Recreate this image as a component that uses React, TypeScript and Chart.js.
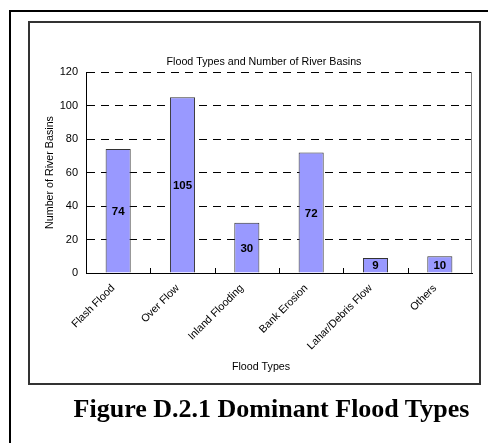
import React, { useEffect, useRef } from "react";
import { Chart, registerables } from "chart.js";

Chart.register(...registerables);

const categories = [
  "Flash Flood",
  "Over Flow",
  "Inland Flooding",
  "Bank Erosion",
  "Lahar/Debris Flow",
  "Others",
];
const basinCounts = [74, 105, 30, 72, 9, 10];
const yMin = 0;
const yMax = 120;
const yStep = 20;
const chartTitle = "Flood Types and Number of River Basins";
const xTitle = "Flood Types";
const yTitle = "Number of River Basins";
const caption = "Figure D.2.1 Dominant Flood Types";

const FONT = "'Liberation Sans', Arial, sans-serif";
const TXT = 10.7;

const decorPlugin = {
  id: "decor",
  afterDraw(chart: any) {
    const { ctx, chartArea: a } = chart;
    const x = chart.scales.x;
    ctx.save();
    // right border of plot area
    ctx.strokeStyle = "#808080";
    ctx.lineWidth = 1;
    ctx.setLineDash([]);
    ctx.beginPath();
    ctx.moveTo(Math.round(a.right) - 0.5, a.top);
    ctx.lineTo(Math.round(a.right) - 0.5, a.bottom);
    ctx.stroke();
    // inward tick marks at category boundaries
    ctx.strokeStyle = "#000";
    for (let i = 1; i < categories.length; i++) {
      const bx = Math.round((x.getPixelForValue(i - 1) + x.getPixelForValue(i)) / 2) + 0.5;
      ctx.beginPath();
      ctx.moveTo(bx, a.bottom);
      ctx.lineTo(bx, a.bottom - 5);
      ctx.stroke();
    }
    // chart title
    ctx.fillStyle = "#000";
    ctx.font = `${TXT}px ${FONT}`;
    ctx.textAlign = "center";
    ctx.textBaseline = "middle";
    ctx.fillText(chartTitle, 264, 62);
    // x axis title
    ctx.fillText(xTitle, 261, 367);
    // data labels
    const meta = chart.getDatasetMeta(0);
    ctx.font = `bold 11.5px ${FONT}`;
    meta.data.forEach((bar: any, i: number) => {
      const cy = (bar.y + bar.base) / 2;
      ctx.fillText(String(basinCounts[i]), bar.x, cy + 1);
    });
    ctx.restore();
  },
};

function FloodChart() {
  const ref = useRef<HTMLCanvasElement | null>(null);
  useEffect(() => {
    if (!ref.current) return;
    const chart = new Chart(ref.current, {
      type: "bar",
      data: {
        labels: categories,
        datasets: [
          {
            data: basinCounts,
            backgroundColor: "#9999FF",
            borderColor: "#333333",
            borderWidth: 1,
            barPercentage: 0.39,
            categoryPercentage: 1,
          },
        ],
      },
      options: {
        animation: false,
        responsive: false,
        devicePixelRatio: 1,
        layout: { padding: { left: 0, right: 16, top: 72, bottom: 70 } },
        plugins: {
          legend: { display: false },
          tooltip: { enabled: false },
          title: { display: false },
        },
        scales: {
          x: {
            grid: { display: false, drawTicks: false },
            border: { display: true, color: "#000", width: 1 },
            ticks: {
              color: "#000",
              font: { family: FONT, size: TXT },
              minRotation: 45,
              maxRotation: 45,
              padding: 9,
              labelOffset: -5,
              autoSkip: false,
            },
            afterFit: (s: any) => {
              s.height = 100;
            },
          },
          y: {
            min: yMin,
            max: yMax,
            grid: { color: "#000", lineWidth: 1, drawTicks: false },
            border: { display: true, color: "#000", width: 1, dash: [8, 6] },
            ticks: {
              stepSize: yStep,
              color: "#000",
              font: { family: FONT, size: 11 },
              padding: 8,
            },
            title: {
              display: true,
              text: yTitle,
              color: "#000",
              font: { family: FONT, size: TXT, lineHeight: 1.2 },
              padding: { top: 43.5, bottom: 0 },
            },
            afterFit: (s: any) => {
              s.width = 86;
            },
          },
        },
      },
      plugins: [decorPlugin],
    });
    return () => chart.destroy();
  }, []);
  return (
    <canvas
      ref={ref}
      width={488}
      height={443}
      style={{ position: "absolute", left: 0, top: 0, width: 488, height: 443 }}
    />
  );
}

export default function App() {
  return (
    <div
      style={{
        position: "absolute",
        left: 0,
        top: 0,
        width: 488,
        height: 443,
        overflow: "hidden",
        background: "#fff",
      }}
    >
      <div
        style={{
          position: "absolute",
          left: 9,
          top: 10,
          width: 479,
          height: 433,
          borderLeft: "2px solid #000",
          borderTop: "2px solid #000",
          boxSizing: "border-box",
        }}
      />
      <div
        style={{
          position: "absolute",
          left: 28,
          top: 21,
          width: 453,
          height: 364,
          border: "2px solid #333",
          boxSizing: "border-box",
        }}
      />
      <FloodChart />
      <div
        style={{
          position: "absolute",
          left: 0,
          width: 543,
          top: 396,
          textAlign: "center",
          fontFamily: "'Liberation Serif', 'Times New Roman', serif",
          fontWeight: "bold",
          fontSize: 26,
          lineHeight: "26px",
          whiteSpace: "nowrap",
          color: "#000",
        }}
      >
        {caption}
      </div>
    </div>
  );
}
